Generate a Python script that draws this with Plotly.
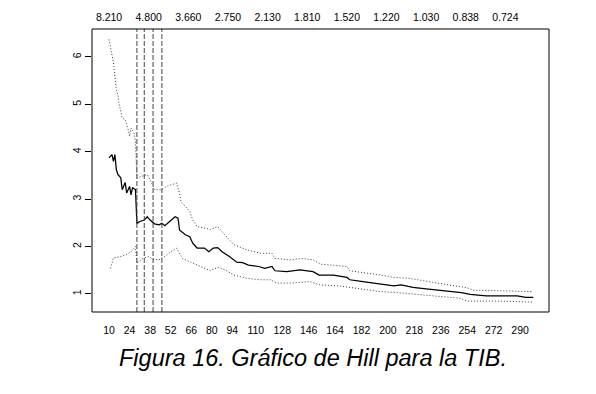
import plotly.graph_objects as go

# Hill estimate (solid)
hill_k = [10, 12, 13, 14, 15, 16, 18, 19, 21, 22, 24, 25, 26, 28, 29, 31, 34, 36, 38, 41, 44, 46, 48,
          52, 55, 57, 58, 62, 65, 67, 70, 75, 78, 81, 84, 87, 92, 97, 101, 105, 112, 116, 121, 123,
          131, 140, 149, 153, 163, 172, 174, 183, 195, 204, 209, 217, 226, 235, 242, 250, 256, 267,
          279, 288, 294, 299]
hill_v = [3.87, 3.94, 3.80, 3.94, 3.62, 3.52, 3.45, 3.20, 3.35, 3.13, 3.27, 3.09, 3.24, 3.20, 2.49,
          2.53, 2.56, 2.63, 2.56, 2.48, 2.46, 2.49, 2.44, 2.56, 2.63, 2.60, 2.35, 2.25, 2.21, 2.07,
          1.97, 1.97, 1.89, 1.97, 1.98, 1.89, 1.79, 1.67, 1.66, 1.61, 1.58, 1.54, 1.58, 1.49, 1.47,
          1.51, 1.47, 1.40, 1.40, 1.35, 1.30, 1.26, 1.20, 1.17, 1.19, 1.14, 1.11, 1.08, 1.07, 1.03,
          0.99, 0.96, 0.96, 0.96, 0.93, 0.93]

# Upper confidence band (dotted)
up_k = [10, 11, 12, 13, 14, 15, 16, 17, 19, 21, 23, 24, 25, 27, 28, 29, 32, 36, 38, 41, 46, 49, 56,
        58, 59, 62, 65, 67, 70, 74, 79, 84, 88, 95, 104, 113, 121, 123, 133, 142, 149, 154, 161, 172,
        174, 185, 195, 204, 215, 224, 235, 242, 254, 258, 274, 288, 299]
up_v = [6.37, 6.19, 6.09, 5.88, 5.59, 5.31, 5.21, 4.99, 4.71, 4.68, 4.47, 4.33, 4.50, 4.40, 4.22,
        3.45, 3.48, 3.52, 3.41, 3.20, 3.20, 3.27, 3.34, 3.13, 2.95, 2.85, 2.74, 2.56, 2.42, 2.40,
        2.36, 2.42, 2.28, 2.04, 1.93, 1.86, 1.86, 1.75, 1.72, 1.75, 1.72, 1.63, 1.61, 1.58, 1.49,
        1.45, 1.40, 1.35, 1.33, 1.28, 1.23, 1.19, 1.13, 1.08, 1.07, 1.06, 1.05]

# Lower confidence band (dotted)
lo_k = [11, 13, 17, 21, 25, 28, 29, 33, 37, 40, 44, 48, 52, 56, 60, 65, 72, 79, 84, 89, 95, 104, 113,
        120, 124, 133, 147, 154, 167, 174, 186, 195, 206, 217, 229, 242, 249, 254, 276, 299]
lo_v = [1.54, 1.76, 1.78, 1.82, 1.89, 2.00, 1.65, 1.75, 1.79, 1.73, 1.72, 1.79, 1.89, 1.97, 1.75,
        1.68, 1.58, 1.49, 1.56, 1.51, 1.40, 1.33, 1.30, 1.30, 1.23, 1.23, 1.26, 1.19, 1.17, 1.14,
        1.08, 1.05, 1.03, 1.00, 0.97, 0.94, 0.91, 0.85, 0.85, 0.83]

bottom_ticks = [10, 24, 38, 52, 66, 80, 94, 110, 128, 146, 164, 182, 200, 218, 236, 254, 272, 290]
top_ticks = [10, 37, 64, 91, 118, 145, 172, 199, 226, 253, 280]
top_labels = ["8.210", "4.800", "3.660", "2.750", "2.130", "1.810", "1.520", "1.220", "1.030", "0.838", "0.724"]
y_ticks = [1, 2, 3, 4, 5, 6]
vlines = [29, 34, 40, 46]
caption = "Figura 16. Gráfico de Hill para la TIB."

FONT = "Liberation Sans, Arial, sans-serif"

fig = go.Figure()
fig.add_trace(go.Scatter(x=up_k, y=up_v, mode="lines",
                         line=dict(color="#3a3a3a", width=1, dash="1px,2px"), showlegend=False))
fig.add_trace(go.Scatter(x=lo_k, y=lo_v, mode="lines",
                         line=dict(color="#3a3a3a", width=1, dash="1px,2px"), showlegend=False))
fig.add_trace(go.Scatter(x=hill_k, y=hill_v, mode="lines",
                         line=dict(color="black", width=1.25), showlegend=False))
# invisible trace to activate top axis
fig.add_trace(go.Scatter(x=[hill_k[0]], y=[hill_v[0]], xaxis="x2", mode="markers",
                         marker=dict(opacity=0), showlegend=False, hoverinfo="skip"))

for v in vlines:
    fig.add_shape(type="line", x0=v, x1=v, y0=0, y1=1, xref="x", yref="paper",
                  line=dict(color="#444444", width=1, dash="5px,2px"))

fig.add_shape(type="rect", x0=0, x1=1, y0=0, y1=1, xref="paper", yref="paper",
              line=dict(color="black", width=1))

pw, ph = 596 - 92 - 47, 394 - 29 - 82

fig.update_layout(
    width=596, height=394,
    margin=dict(l=92, r=47, t=29, b=82),
    paper_bgcolor="white", plot_bgcolor="white",
    font=dict(family=FONT, size=10.5, color="black"),
    xaxis=dict(range=[-1.6, 309.7], tickmode="array", tickvals=bottom_ticks,
               ticks="outside", ticklen=8, tickcolor="rgba(0,0,0,0)",
               showgrid=False, zeroline=False, showline=False),
    xaxis2=dict(range=[-1.6, 309.7], overlaying="x", side="top", tickmode="array",
                tickvals=top_ticks, ticktext=top_labels, matches="x",
                ticks="outside", ticklen=3, tickcolor="rgba(0,0,0,0)",
                showgrid=False, zeroline=False, showline=False),
    yaxis=dict(range=[0.62, 6.59], tickmode="array", tickvals=y_ticks,
               ticks="outside", ticklen=6, tickcolor="black", tickangle=-90,
               showgrid=False, zeroline=False, showline=False),
    annotations=[dict(text=caption, x=(313 - 92) / pw, y=(394 - 82 - 358) / ph,
                      xref="paper", yref="paper", xanchor="center", yanchor="middle",
                      showarrow=False, font=dict(family=FONT, size=23.5, style="italic",
                                                 color="black"))],
)

fig.write_html("out.html")
